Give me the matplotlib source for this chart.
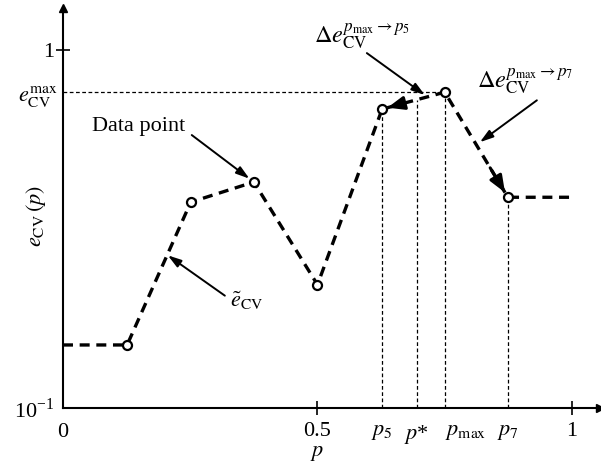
import matplotlib
matplotlib.use("Agg")
import matplotlib.pyplot as plt
import numpy as np

# data
p_pts = [0.0, 0.126, 0.251, 0.375, 0.5, 0.627, 0.750, 0.874, 1.0]
e_pts = [0.150, 0.150, 0.376, 0.428, 0.221, 0.684, 0.763, 0.388, 0.388]
p5, p_star, p_max, p7 = 0.627, 0.695, 0.750, 0.874
e5, e_max, e7 = 0.684, 0.763, 0.388

x_ticks_major = [0.5, 1.0]
x_labels_major = ["0.5", "1"]
x_ticks_minor = [0.0, p5, p_star, p_max, p7]
x_labels_minor = ["0", r"$p_5$", r"$p$*", r"$p_{\mathrm{max}}$", r"$p_7$"]


def lerp_log(pa, ea, pb, eb, t):
    # point along a segment, straight on a log y axis
    return pa + t * (pb - pa), 10 ** (np.log10(ea) + t * (np.log10(eb) - np.log10(ea)))


def main():
    plt.rcParams["font.family"] = ["Liberation Serif", "DejaVu Serif"]
    plt.rcParams["mathtext.fontset"] = "stix"
    fs = 16

    fig = plt.figure(figsize=(6.01, 4.66), dpi=100)
    ax = fig.add_axes([0.1048, 0.1245, 0.8935, 0.858])
    ax.set_yscale("log")
    ax.set_xlim(0, 1.055)
    ax.set_ylim(0.1, 1.31)

    # axes with arrow ends
    for s in ["top", "right"]:
        ax.spines[s].set_visible(False)
    for s in ["left", "bottom"]:
        ax.spines[s].set_linewidth(1.5)
    ax.plot(1, 0, ">k", ms=6, transform=ax.transAxes, clip_on=False)
    ax.plot(0, 1, "^k", ms=6, transform=ax.transAxes, clip_on=False)

    # helper lines
    ax.plot([0, p_max], [e_max, e_max], "k--", lw=0.9, dashes=(3, 2))
    e_star = lerp_log(p5, e5, p_max, e_max, (p_star - p5) / (p_max - p5))[1]
    for px, py in [(p5, e5), (p_star, e_star), (p_max, e_max), (p7, e7)]:
        ax.plot([px, px], [0.1, py], "k--", lw=0.9, dashes=(3, 2))

    # the curve
    ax.plot(p_pts, e_pts, "k--", lw=2.4, dashes=(3, 2))
    ax.plot(p_pts[1:-1], e_pts[1:-1], "o", ms=6.5, mfc="white", mec="black", mew=1.6, zorder=5)

    # arrow heads on the segments from p_max
    for pt, et in [(p5, e5), (p7, e7)]:
        xs = lerp_log(pt, et, p_max, e_max, 0.28)
        ax.annotate("", xy=(pt, et), xytext=xs,
                    arrowprops=dict(arrowstyle="-|>,head_length=1.0,head_width=0.4",
                                    color="black", lw=2.2, shrinkA=0, shrinkB=4))

    arr = dict(arrowstyle="-|>,head_length=0.8,head_width=0.25", color="black", lw=1.4,
               shrinkA=0, shrinkB=0)
    # Data point
    ax.text(0.149, 0.610, "Data point", fontsize=fs, ha="center", va="center")
    ax.annotate("", xy=(0.375, 0.428), xytext=(0.253, 0.579),
                arrowprops=dict(arr, shrinkB=4))
    # fitted curve
    ax.text(0.328, 0.199, r"$\tilde{e}_{\mathrm{CV}}$", fontsize=fs, ha="left", va="center")
    ax.annotate("", xy=(0.206, 0.267), xytext=(0.318, 0.206), arrowprops=arr)
    # deltas
    ax.text(0.587, 1.087, r"$\Delta e_{\mathrm{CV}}^{p_{\mathrm{max}}\rightarrow p_5}$",
            fontsize=17.5, ha="center", va="center")
    ax.annotate("", xy=(0.711, 0.749), xytext=(0.597, 0.981), arrowprops=arr)
    ax.text(0.908, 0.815, r"$\Delta e_{\mathrm{CV}}^{p_{\mathrm{max}}\rightarrow p_7}$",
            fontsize=17.5, ha="center", va="center")
    ax.annotate("", xy=(0.819, 0.553), xytext=(0.931, 0.724), arrowprops=arr)

    # ticks
    ax.set_xticks(x_ticks_major, x_labels_major)
    ax.set_xticks(x_ticks_minor, x_labels_minor, minor=True)
    ax.tick_params(axis="x", which="major", direction="inout", length=10, width=1.2,
                   labelsize=fs, pad=5)
    ax.tick_params(axis="x", which="minor", length=0, labelsize=fs, pad=11)
    # p_max label sits to the right of its line, as in the original
    ax.get_xticklabels(minor=True)[3].set_horizontalalignment("left")
    ax.set_yticks([0.1, 1.0], [r"10$^{\mathregular{-1}}$", "1"])
    ax.set_yticks([e_max], [r"$e_{\mathrm{CV}}^{\mathrm{max}}$"], minor=True)
    ax.tick_params(axis="y", which="major", direction="inout", length=10, width=1.2,
                   labelsize=fs, pad=1)
    ax.tick_params(axis="y", which="minor", length=0, labelsize=fs, pad=4)
    ax.yaxis.get_major_ticks()[0].tick1line.set_visible(False)

    ax.text(0.5, -0.115, r"$p$", fontsize=fs, ha="center", va="center",
            transform=ax.get_xaxis_transform())
    ax.text(-0.05, 0.48, r"$e_{\mathrm{CV}}\,(p)$", fontsize=fs, rotation=90,
            ha="center", va="center", transform=ax.transAxes)

    fig.savefig("out.png", dpi=100)


if __name__ == "__main__":
    main()
